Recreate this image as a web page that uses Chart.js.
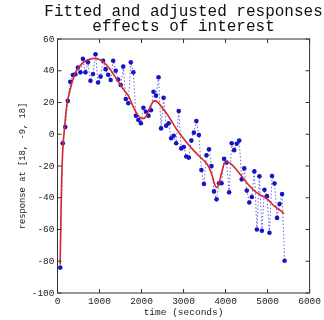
<!DOCTYPE html>
<html>
<head>
<meta charset="utf-8">
<script src="https://cdn.jsdelivr.net/npm/chart.js@4"></script>
<style>
    html, body { margin: 0; padding: 0; background: #fff; }
    #wrap { width: 324px; height: 320px; }
</style>
</head>
<body>
<div id="wrap"><canvas id="fitChart" width="324" height="320"></canvas></div>
<script>
// sampled times (seconds) and observed responses
var times = [65, 125, 185, 245, 305, 365, 425, 485, 545, 605,
    665, 725, 785, 845, 905, 965, 1025, 1085, 1145, 1205,
    1265, 1325, 1385, 1445, 1505, 1565, 1625, 1685, 1745, 1805,
    1865, 1925, 1985, 2045, 2105, 2165, 2225, 2285, 2345, 2405,
    2465, 2525, 2585, 2645, 2705, 2765, 2825, 2885, 2945, 3005,
    3065, 3125, 3185, 3245, 3305, 3365, 3425, 3485, 3545, 3605,
    3665, 3725, 3785, 3845, 3905, 3965, 4025, 4085, 4145, 4205,
    4265, 4325, 4385, 4445, 4505, 4565, 4625, 4685, 4745, 4805,
    4865, 4925, 4985, 5045, 5105, 5165, 5225, 5285, 5345, 5405];
var responses = [-84, -5.7, 4.6, 21, 33, 37.3, 37.8, 42, 39, 47.5,
    39, 45.3, 33.7, 38, 50.4, 32.6, 36.3, 46.3, 41, 37.5,
    34.2, 46.3, 40, 34.5, 31, 42.6, 22.2, 19.5, 45.3, 39,
    11.7, 9, 6.9, 16.7, 14.2, 11.7, 15.1, 26.8, 24.3, 35.9,
    3.7, 23, 5.4, 6.9, -2.5, -0.9, -5.7, 14.6, -8.9, -8,
    -14, -14.7, -4, 1, 8.3, -0.5, -22.5, -31.3, -13.3, -9.5,
    -20, -36, -41, -30.9, -30.9, -15.5, -17.8, -36.6, -5.7, -10,
    -6, -4, -28.4, -21.5, -35.5, -43, -39.5, -23.4, -60, -26.5,
    -60.8, -35, -39, -62, -26.3, -31, -52.7, -44, -37.7, -79.7];

// fitted response curve
var fitTimes = [62, 80, 100, 125, 160, 215, 300, 400, 500, 650,
    800, 900, 1000, 1100, 1250, 1400, 1550, 1700, 1800, 1900,
    2000, 2060, 2130, 2200, 2270, 2330, 2400, 2500, 2650, 2800,
    2950, 3100, 3250, 3400, 3500, 3600, 3680, 3740, 3785, 3840,
    3900, 3960, 4030, 4120, 4250, 4400, 4550, 4700, 4850, 5000,
    5150, 5300, 5390];
var fitValues = [-82, -55, -28, -10, 2, 17, 28, 37, 42, 46,
    47.5, 47.8, 47, 45.5, 41, 35, 29, 23.5, 17.5, 12.5,
    10, 10, 12.5, 17, 20.3, 21, 19.8, 16.5, 11, 4.5,
    -1, -6, -10.5, -14.5, -17, -20.5, -26, -31.5, -33.5, -31.5,
    -25, -19, -17.5, -18.5, -22, -27, -32, -36, -38.5, -41,
    -45, -48, -50];

var xTicks = [0, 1000, 2000, 3000, 4000, 5000, 6000];
var yTicks = [-100, -80, -60, -40, -20, 0, 20, 40, 60];

var titleLines = ['Fitted and adjusted responses', 'effects of interest'];
var mono = "'Liberation Mono', 'DejaVu Sans Mono', monospace";

// box with inward ticks and a title centred over the axes
var frame = {
    id: 'frame',
    afterDraw: function (chart) {
        var ctx = chart.ctx;
        var a = chart.chartArea;
        var xs = chart.scales.x;
        var ys = chart.scales.y;
        var tl = 4;
        ctx.save();
        ctx.strokeStyle = '#333';
        ctx.lineWidth = 1;
        ctx.strokeRect(a.left, a.top, a.right - a.left, a.bottom - a.top);
        ctx.beginPath();
        xTicks.forEach(function (v) {
            var px = xs.getPixelForValue(v);
            ctx.moveTo(px, a.bottom); ctx.lineTo(px, a.bottom - tl);
            ctx.moveTo(px, a.top); ctx.lineTo(px, a.top + tl);
        });
        yTicks.forEach(function (v) {
            var py = ys.getPixelForValue(v);
            ctx.moveTo(a.left, py); ctx.lineTo(a.left + tl, py);
            ctx.moveTo(a.right, py); ctx.lineTo(a.right - tl, py);
        });
        ctx.stroke();

        ctx.fillStyle = '#111';
        ctx.font = '16px ' + mono;
        ctx.textAlign = 'center';
        ctx.textBaseline = 'alphabetic';
        var cx = (a.left + a.right) / 2;
        ctx.fillText(titleLines[0], cx, 16);
        ctx.fillText(titleLines[1], cx, 30.5);
        ctx.restore();
    }
};

var chart = new Chart(document.getElementById('fitChart').getContext('2d'), {
    type: 'scatter',
    data: {
        datasets: [
            {
                type: 'line',
                data: fitTimes.map((t, i) => ({ x: t, y: fitValues[i] })),
                borderColor: 'rgb(215, 40, 40)',
                borderWidth: 1.6,
                pointRadius: 0,
                cubicInterpolationMode: 'monotone',
                fill: false
            },
            {
                data: times.map((t, i) => ({ x: t, y: responses[i] })),
                showLine: true,
                borderColor: 'rgba(40, 40, 210, 0.7)',
                borderWidth: 1,
                borderDash: [1.5, 2],
                pointRadius: 2.3,
                pointBackgroundColor: '#1414c8',
                pointBorderWidth: 0
            }
        ]
    },
    options: {
        responsive: false,
        animation: false,
        devicePixelRatio: 1,
        layout: { padding: { top: 39, right: 11, left: 0, bottom: 0 } },
        plugins: {
            legend: { display: false },
            tooltip: { enabled: false },
            title: { display: false }
        },
        scales: {
            x: {
                type: 'linear',
                min: 0,
                max: 6000,
                afterBuildTicks: function (s) { s.ticks = xTicks.map(v => ({ value: v })); },
                afterFit: function (s) { s.height = 27; },
                grid: { display: false, drawTicks: false },
                border: { display: false },
                ticks: {
                    padding: 3,
                    color: '#222',
                    font: { family: mono, size: 9.5 },
                    maxRotation: 0,
                    callback: function (v) { return String(v); }
                },
                title: {
                    display: true,
                    text: 'time (seconds)',
                    color: '#222',
                    font: { family: mono, size: 9.5 },
                    padding: { top: 0, bottom: 1.6 }
                }
            },
            y: {
                type: 'linear',
                min: -100,
                max: 60,
                afterBuildTicks: function (s) { s.ticks = yTicks.map(v => ({ value: v })); },
                afterFit: function (s) { s.width = 57.5; },
                grid: { display: false, drawTicks: false },
                border: { display: false },
                ticks: {
                    padding: 3,
                    color: '#222',
                    font: { family: mono, size: 9.5 },
                    callback: function (v) { return String(v); }
                },
                title: {
                    display: true,
                    text: 'response at [18, -9, 18]',
                    color: '#222',
                    font: { family: mono, size: 8.8 },
                    padding: { top: 17.4, bottom: 0 }
                }
            }
        }
    },
    plugins: [frame]
});
</script>
</body>
</html>
